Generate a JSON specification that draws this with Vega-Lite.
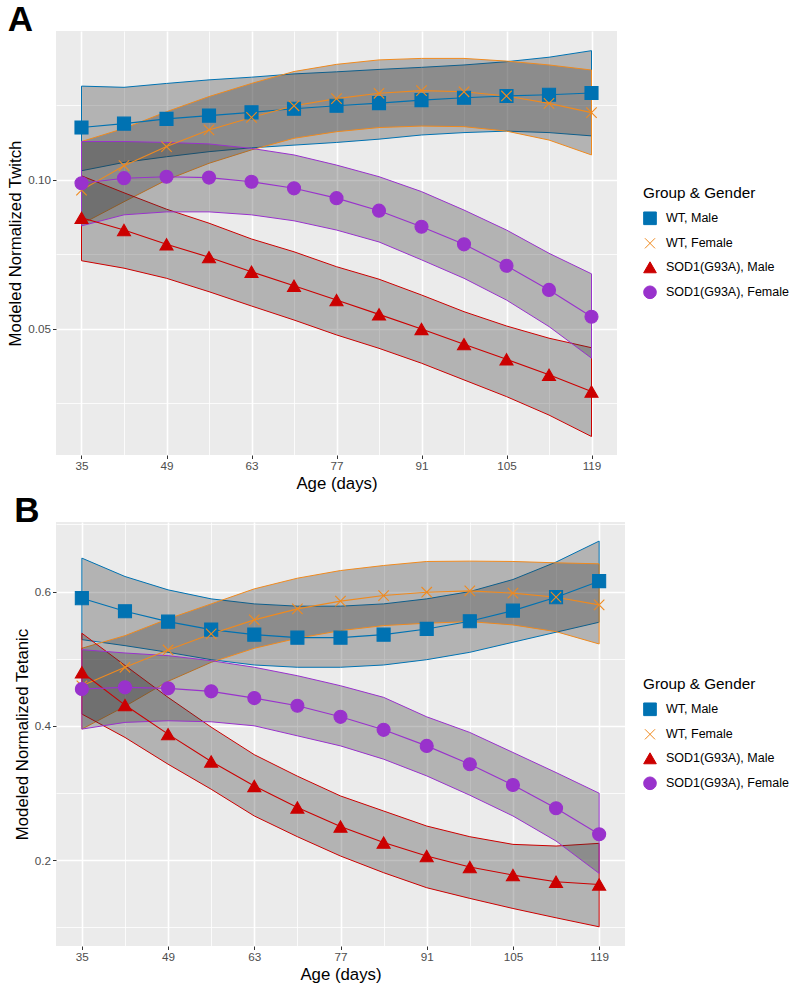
{
  "$schema": "https://vega.github.io/schema/vega-lite/v6.json",
  "padding": {"left": 7, "top": 3, "right": 0, "bottom": 0},
  "background": "white",
  "config": {
    "font": "Liberation Sans",
    "view": {"fill": "#EBEBEB", "stroke": null},
    "axis": {
      "labelFont": "Liberation Sans", "labelFontSize": 11.7, "labelColor": "#4D4D4D",
      "titleFont": "Liberation Sans", "titleFontSize": 16.8, "titleFontWeight": "normal", "titleColor": "#000000",
      "tickSize": 3.5, "tickColor": "#333333", "tickWidth": 1, "domain": false,
      "labelPadding": 2, "titlePadding": 3, "gridColor": "#FFFFFF"
    },
    "legend": {
      "titleFont": "Liberation Sans", "titleFontSize": 15.3, "titleFontWeight": "normal", "titleColor": "#000000",
      "labelFont": "Liberation Sans", "labelFontSize": 12.5, "labelColor": "#000000",
      "symbolSize": 160, "symbolStrokeWidth": 1, "rowPadding": 8, "labelOffset": 9, "titlePadding": 10
    },
    "title": {"font": "Liberation Sans", "fontSize": 35, "fontWeight": "bold", "color": "#000000", "anchor": "start", "baseline": "alphabetic", "offset": -7}
  },
  "datasets": {
    "twitch": [
      {"group": "WT, Male", "age": 35, "fit": 0.1176, "lo": 0.1031, "hi": 0.1315},
      {"group": "WT, Male", "age": 42, "fit": 0.1189, "lo": 0.1059, "hi": 0.1311},
      {"group": "WT, Male", "age": 49, "fit": 0.1205, "lo": 0.1078, "hi": 0.1324},
      {"group": "WT, Male", "age": 56, "fit": 0.1216, "lo": 0.1095, "hi": 0.1336},
      {"group": "WT, Male", "age": 63, "fit": 0.1227, "lo": 0.1108, "hi": 0.1345},
      {"group": "WT, Male", "age": 70, "fit": 0.1239, "lo": 0.1117, "hi": 0.1356},
      {"group": "WT, Male", "age": 77, "fit": 0.1249, "lo": 0.1126, "hi": 0.1363},
      {"group": "WT, Male", "age": 84, "fit": 0.1258, "lo": 0.1137, "hi": 0.1371},
      {"group": "WT, Male", "age": 91, "fit": 0.1268, "lo": 0.1151, "hi": 0.1378},
      {"group": "WT, Male", "age": 98, "fit": 0.1276, "lo": 0.1159, "hi": 0.1386},
      {"group": "WT, Male", "age": 105, "fit": 0.1282, "lo": 0.1164, "hi": 0.1397},
      {"group": "WT, Male", "age": 112, "fit": 0.1286, "lo": 0.1159, "hi": 0.1412},
      {"group": "WT, Male", "age": 119, "fit": 0.1292, "lo": 0.1148, "hi": 0.1434},
      {"group": "WT, Female", "age": 35, "fit": 0.0966, "lo": 0.0852, "hi": 0.1129},
      {"group": "WT, Female", "age": 42, "fit": 0.1048, "lo": 0.0927, "hi": 0.1173},
      {"group": "WT, Female", "age": 49, "fit": 0.1112, "lo": 0.1000, "hi": 0.1229},
      {"group": "WT, Female", "age": 56, "fit": 0.1168, "lo": 0.1056, "hi": 0.1280},
      {"group": "WT, Female", "age": 63, "fit": 0.1210, "lo": 0.1101, "hi": 0.1324},
      {"group": "WT, Female", "age": 70, "fit": 0.1249, "lo": 0.1140, "hi": 0.1364},
      {"group": "WT, Female", "age": 77, "fit": 0.1273, "lo": 0.1162, "hi": 0.1388},
      {"group": "WT, Female", "age": 84, "fit": 0.1291, "lo": 0.1176, "hi": 0.1403},
      {"group": "WT, Female", "age": 91, "fit": 0.1300, "lo": 0.1181, "hi": 0.1408},
      {"group": "WT, Female", "age": 98, "fit": 0.1296, "lo": 0.1179, "hi": 0.1408},
      {"group": "WT, Female", "age": 105, "fit": 0.1282, "lo": 0.1164, "hi": 0.1399},
      {"group": "WT, Female", "age": 112, "fit": 0.1257, "lo": 0.1134, "hi": 0.1386},
      {"group": "WT, Female", "age": 119, "fit": 0.1226, "lo": 0.1084, "hi": 0.1369},
      {"group": "SOD1(G93A), Male", "age": 35, "fit": 0.0873, "lo": 0.0729, "hi": 0.1014},
      {"group": "SOD1(G93A), Male", "age": 42, "fit": 0.0832, "lo": 0.0704, "hi": 0.0957},
      {"group": "SOD1(G93A), Male", "age": 49, "fit": 0.0784, "lo": 0.0670, "hi": 0.0902},
      {"group": "SOD1(G93A), Male", "age": 56, "fit": 0.0741, "lo": 0.0625, "hi": 0.0855},
      {"group": "SOD1(G93A), Male", "age": 63, "fit": 0.0692, "lo": 0.0577, "hi": 0.0802},
      {"group": "SOD1(G93A), Male", "age": 70, "fit": 0.0645, "lo": 0.0530, "hi": 0.0759},
      {"group": "SOD1(G93A), Male", "age": 77, "fit": 0.0597, "lo": 0.0480, "hi": 0.0709},
      {"group": "SOD1(G93A), Male", "age": 84, "fit": 0.0549, "lo": 0.0435, "hi": 0.0667},
      {"group": "SOD1(G93A), Male", "age": 91, "fit": 0.0500, "lo": 0.0385, "hi": 0.0614},
      {"group": "SOD1(G93A), Male", "age": 98, "fit": 0.0449, "lo": 0.0329, "hi": 0.0558},
      {"group": "SOD1(G93A), Male", "age": 105, "fit": 0.0398, "lo": 0.0273, "hi": 0.0510},
      {"group": "SOD1(G93A), Male", "age": 112, "fit": 0.0346, "lo": 0.0211, "hi": 0.0469},
      {"group": "SOD1(G93A), Male", "age": 119, "fit": 0.0290, "lo": 0.0139, "hi": 0.0437},
      {"group": "SOD1(G93A), Female", "age": 35, "fit": 0.0989, "lo": 0.0846, "hi": 0.1129},
      {"group": "SOD1(G93A), Female", "age": 42, "fit": 0.1006, "lo": 0.0883, "hi": 0.1129},
      {"group": "SOD1(G93A), Female", "age": 49, "fit": 0.1011, "lo": 0.0893, "hi": 0.1126},
      {"group": "SOD1(G93A), Female", "age": 56, "fit": 0.1008, "lo": 0.0893, "hi": 0.1121},
      {"group": "SOD1(G93A), Female", "age": 63, "fit": 0.0994, "lo": 0.0883, "hi": 0.1106},
      {"group": "SOD1(G93A), Female", "age": 70, "fit": 0.0972, "lo": 0.0863, "hi": 0.1084},
      {"group": "SOD1(G93A), Female", "age": 77, "fit": 0.0939, "lo": 0.0832, "hi": 0.1050},
      {"group": "SOD1(G93A), Female", "age": 84, "fit": 0.0897, "lo": 0.0792, "hi": 0.1011},
      {"group": "SOD1(G93A), Female", "age": 91, "fit": 0.0843, "lo": 0.0732, "hi": 0.0961},
      {"group": "SOD1(G93A), Female", "age": 98, "fit": 0.0784, "lo": 0.0670, "hi": 0.0899},
      {"group": "SOD1(G93A), Female", "age": 105, "fit": 0.0712, "lo": 0.0597, "hi": 0.0832},
      {"group": "SOD1(G93A), Female", "age": 112, "fit": 0.0631, "lo": 0.0508, "hi": 0.0754},
      {"group": "SOD1(G93A), Female", "age": 119, "fit": 0.0541, "lo": 0.0402, "hi": 0.0685}
    ],
    "tetanic": [
      {"group": "WT, Male", "age": 35, "fit": 0.5901, "lo": 0.5284, "hi": 0.6498},
      {"group": "WT, Male", "age": 42, "fit": 0.5707, "lo": 0.5194, "hi": 0.6224},
      {"group": "WT, Male", "age": 49, "fit": 0.5552, "lo": 0.5095, "hi": 0.6025},
      {"group": "WT, Male", "age": 56, "fit": 0.5433, "lo": 0.4985, "hi": 0.5891},
      {"group": "WT, Male", "age": 63, "fit": 0.5358, "lo": 0.4906, "hi": 0.5816},
      {"group": "WT, Male", "age": 70, "fit": 0.5313, "lo": 0.4872, "hi": 0.5782},
      {"group": "WT, Male", "age": 77, "fit": 0.5313, "lo": 0.4872, "hi": 0.5782},
      {"group": "WT, Male", "age": 84, "fit": 0.5358, "lo": 0.4906, "hi": 0.5816},
      {"group": "WT, Male", "age": 91, "fit": 0.5443, "lo": 0.4985, "hi": 0.5891},
      {"group": "WT, Male", "age": 98, "fit": 0.5558, "lo": 0.5095, "hi": 0.6000},
      {"group": "WT, Male", "age": 105, "fit": 0.5716, "lo": 0.5245, "hi": 0.6179},
      {"group": "WT, Male", "age": 112, "fit": 0.5916, "lo": 0.5394, "hi": 0.6439},
      {"group": "WT, Male", "age": 119, "fit": 0.6155, "lo": 0.5543, "hi": 0.6752},
      {"group": "WT, Female", "age": 35, "fit": 0.4597, "lo": 0.3951, "hi": 0.5155},
      {"group": "WT, Female", "age": 42, "fit": 0.4872, "lo": 0.4290, "hi": 0.5343},
      {"group": "WT, Female", "age": 49, "fit": 0.5130, "lo": 0.4663, "hi": 0.5593},
      {"group": "WT, Female", "age": 56, "fit": 0.5369, "lo": 0.4946, "hi": 0.5816},
      {"group": "WT, Female", "age": 63, "fit": 0.5578, "lo": 0.5155, "hi": 0.6040},
      {"group": "WT, Female", "age": 70, "fit": 0.5742, "lo": 0.5304, "hi": 0.6199},
      {"group": "WT, Female", "age": 77, "fit": 0.5857, "lo": 0.5418, "hi": 0.6313},
      {"group": "WT, Female", "age": 84, "fit": 0.5940, "lo": 0.5493, "hi": 0.6388},
      {"group": "WT, Female", "age": 91, "fit": 0.5990, "lo": 0.5528, "hi": 0.6448},
      {"group": "WT, Female", "age": 98, "fit": 0.6010, "lo": 0.5552, "hi": 0.6453},
      {"group": "WT, Female", "age": 105, "fit": 0.5976, "lo": 0.5503, "hi": 0.6448},
      {"group": "WT, Female", "age": 112, "fit": 0.5916, "lo": 0.5403, "hi": 0.6428},
      {"group": "WT, Female", "age": 119, "fit": 0.5801, "lo": 0.5219, "hi": 0.6413},
      {"group": "SOD1(G93A), Male", "age": 35, "fit": 0.4797, "lo": 0.4175, "hi": 0.5379},
      {"group": "SOD1(G93A), Male", "age": 42, "fit": 0.4309, "lo": 0.3827, "hi": 0.4900},
      {"group": "SOD1(G93A), Male", "age": 49, "fit": 0.3876, "lo": 0.3428, "hi": 0.4424},
      {"group": "SOD1(G93A), Male", "age": 56, "fit": 0.3469, "lo": 0.3055, "hi": 0.3980},
      {"group": "SOD1(G93A), Male", "age": 63, "fit": 0.3104, "lo": 0.2657, "hi": 0.3570},
      {"group": "SOD1(G93A), Male", "age": 70, "fit": 0.2784, "lo": 0.2348, "hi": 0.3250},
      {"group": "SOD1(G93A), Male", "age": 77, "fit": 0.2500, "lo": 0.2060, "hi": 0.2955},
      {"group": "SOD1(G93A), Male", "age": 84, "fit": 0.2261, "lo": 0.1812, "hi": 0.2731},
      {"group": "SOD1(G93A), Male", "age": 91, "fit": 0.2060, "lo": 0.1588, "hi": 0.2507},
      {"group": "SOD1(G93A), Male", "age": 98, "fit": 0.1896, "lo": 0.1429, "hi": 0.2348},
      {"group": "SOD1(G93A), Male", "age": 105, "fit": 0.1776, "lo": 0.1279, "hi": 0.2234},
      {"group": "SOD1(G93A), Male", "age": 112, "fit": 0.1677, "lo": 0.1140, "hi": 0.2209},
      {"group": "SOD1(G93A), Male", "age": 119, "fit": 0.1637, "lo": 0.1006, "hi": 0.2249},
      {"group": "SOD1(G93A), Female", "age": 35, "fit": 0.4548, "lo": 0.3951, "hi": 0.5134},
      {"group": "SOD1(G93A), Female", "age": 42, "fit": 0.4573, "lo": 0.4051, "hi": 0.5085},
      {"group": "SOD1(G93A), Female", "age": 49, "fit": 0.4558, "lo": 0.4075, "hi": 0.5045},
      {"group": "SOD1(G93A), Female", "age": 56, "fit": 0.4513, "lo": 0.4060, "hi": 0.4970},
      {"group": "SOD1(G93A), Female", "age": 63, "fit": 0.4413, "lo": 0.4000, "hi": 0.4872},
      {"group": "SOD1(G93A), Female", "age": 70, "fit": 0.4299, "lo": 0.3851, "hi": 0.4746},
      {"group": "SOD1(G93A), Female", "age": 77, "fit": 0.4134, "lo": 0.3701, "hi": 0.4597},
      {"group": "SOD1(G93A), Female", "age": 84, "fit": 0.3940, "lo": 0.3503, "hi": 0.4424},
      {"group": "SOD1(G93A), Female", "age": 91, "fit": 0.3701, "lo": 0.3254, "hi": 0.4134},
      {"group": "SOD1(G93A), Female", "age": 98, "fit": 0.3428, "lo": 0.2966, "hi": 0.3901},
      {"group": "SOD1(G93A), Female", "age": 105, "fit": 0.3119, "lo": 0.2657, "hi": 0.3603},
      {"group": "SOD1(G93A), Female", "age": 112, "fit": 0.2772, "lo": 0.2284, "hi": 0.3304},
      {"group": "SOD1(G93A), Female", "age": 119, "fit": 0.2384, "lo": 0.1802, "hi": 0.2996}
    ]
  },
  "spacing": 2,
  "resolve": {
    "scale": {"color": "independent", "shape": "independent", "stroke": "independent"},
    "legend": {"color": "independent", "shape": "independent", "stroke": "independent"}
  },
  "vconcat": [
    {
      "title": {"text": "A"},
      "width": 561,
      "height": 424,
      "data": {"name": "twitch"},
      "encoding": {
        "x": {
          "field": "age", "type": "quantitative", "title": "Age (days)",
          "scale": {"domain": [30.8, 123.2], "nice": false, "zero": false},
          "axis": {
            "values": [35, 42, 49, 56, 63, 70, 77, 84, 91, 98, 105, 112, 119],
            "labelExpr": "datum.value % 14 == 7 ? datum.label : ''",
            "gridWidth": {"condition": {"test": "datum.value % 14 == 7", "value": 1.6}, "value": 0.8},
            "tickOpacity": {"condition": {"test": "datum.value % 14 == 7", "value": 1}, "value": 0}
          }
        }
      },
      "layer": [
        {
          "mark": {"type": "area", "fill": "#333333", "fillOpacity": 0.3, "strokeWidth": 1, "strokeOpacity": 1},
          "encoding": {
            "y": {
              "field": "lo", "type": "quantitative", "title": "Modeled Normalized Twitch",
              "scale": {"domain": [0.0077, 0.150], "nice": false, "zero": false},
              "axis": {
                "values": [0.025, 0.05, 0.075, 0.1, 0.125],
                "labelExpr": "abs(datum.value*20 - round(datum.value*20)) < 0.001 ? format(datum.value, '.2f') : ''",
                "gridWidth": {"condition": {"test": "abs(datum.value*20 - round(datum.value*20)) < 0.001", "value": 1.6}, "value": 0.8},
                "tickOpacity": {"condition": {"test": "abs(datum.value*20 - round(datum.value*20)) < 0.001", "value": 1}, "value": 0}
              }
            },
            "y2": {"field": "hi"},
            "stroke": {
              "field": "group", "type": "nominal", "title": "Group & Gender",
              "scale": {"domain": ["WT, Male", "WT, Female", "SOD1(G93A), Male", "SOD1(G93A), Female"], "range": ["#0072B2", "#F08A1E", "#CC0000", "#9932CC"]},
              "legend": {"orient": "none", "legendX": 587, "legendY": 155}
            }
          }
        },
        {
          "mark": {"type": "line", "strokeWidth": 1.1},
          "encoding": {
            "y": {"field": "fit", "type": "quantitative"},
            "color": {
              "field": "group", "type": "nominal", "title": "Group & Gender",
              "scale": {"domain": ["WT, Male", "WT, Female", "SOD1(G93A), Male", "SOD1(G93A), Female"], "range": ["#0072B2", "#F08A1E", "#CC0000", "#9932CC"]},
              "legend": {"orient": "none", "legendX": 587, "legendY": 155}
            }
          }
        },
        {
          "mark": {"type": "point", "filled": true, "size": 170, "strokeWidth": 1.1, "opacity": 1},
          "encoding": {
            "y": {"field": "fit", "type": "quantitative"},
            "color": {"field": "group", "type": "nominal", "title": "Group & Gender"},
            "stroke": {"field": "group", "type": "nominal", "title": "Group & Gender"},
            "shape": {
              "field": "group", "type": "nominal", "title": "Group & Gender",
              "scale": {"domain": ["WT, Male", "WT, Female", "SOD1(G93A), Male", "SOD1(G93A), Female"], "range": ["square", "M-0.8,-0.8L0.8,0.8M-0.8,0.8L0.8,-0.8", "triangle-up", "circle"]},
              "legend": {"orient": "none", "legendX": 587, "legendY": 155}
            }
          }
        }
      ]
    },
    {
      "title": {"text": "B"},
      "width": 569,
      "height": 424,
      "data": {"name": "tetanic"},
      "encoding": {
        "x": {
          "field": "age", "type": "quantitative", "title": "Age (days)",
          "scale": {"domain": [30.8, 123.2], "nice": false, "zero": false},
          "axis": {
            "values": [35, 42, 49, 56, 63, 70, 77, 84, 91, 98, 105, 112, 119],
            "labelExpr": "datum.value % 14 == 7 ? datum.label : ''",
            "gridWidth": {"condition": {"test": "datum.value % 14 == 7", "value": 1.6}, "value": 0.8},
            "tickOpacity": {"condition": {"test": "datum.value % 14 == 7", "value": 1}, "value": 0}
          }
        }
      },
      "layer": [
        {
          "mark": {"type": "area", "fill": "#333333", "fillOpacity": 0.3, "strokeWidth": 1, "strokeOpacity": 1},
          "encoding": {
            "y": {
              "field": "lo", "type": "quantitative", "title": "Modeled Normalized Tetanic",
              "scale": {"domain": [0.072, 0.7036], "nice": false, "zero": false},
              "axis": {
                "values": [0.1, 0.2, 0.3, 0.4, 0.5, 0.6, 0.7],
                "labelExpr": "abs(datum.value*5 - round(datum.value*5)) < 0.001 ? format(datum.value, '.1f') : ''",
                "gridWidth": {"condition": {"test": "abs(datum.value*5 - round(datum.value*5)) < 0.001", "value": 1.6}, "value": 0.8},
                "tickOpacity": {"condition": {"test": "abs(datum.value*5 - round(datum.value*5)) < 0.001", "value": 1}, "value": 0}
              }
            },
            "y2": {"field": "hi"},
            "stroke": {
              "field": "group", "type": "nominal", "title": "Group & Gender",
              "scale": {"domain": ["WT, Male", "WT, Female", "SOD1(G93A), Male", "SOD1(G93A), Female"], "range": ["#0072B2", "#F08A1E", "#CC0000", "#9932CC"]},
              "legend": {"orient": "none", "legendX": 587, "legendY": 155}
            }
          }
        },
        {
          "mark": {"type": "line", "strokeWidth": 1.1},
          "encoding": {
            "y": {"field": "fit", "type": "quantitative"},
            "color": {
              "field": "group", "type": "nominal", "title": "Group & Gender",
              "scale": {"domain": ["WT, Male", "WT, Female", "SOD1(G93A), Male", "SOD1(G93A), Female"], "range": ["#0072B2", "#F08A1E", "#CC0000", "#9932CC"]},
              "legend": {"orient": "none", "legendX": 587, "legendY": 155}
            }
          }
        },
        {
          "mark": {"type": "point", "filled": true, "size": 170, "strokeWidth": 1.1, "opacity": 1},
          "encoding": {
            "y": {"field": "fit", "type": "quantitative"},
            "color": {"field": "group", "type": "nominal", "title": "Group & Gender"},
            "stroke": {"field": "group", "type": "nominal", "title": "Group & Gender"},
            "shape": {
              "field": "group", "type": "nominal", "title": "Group & Gender",
              "scale": {"domain": ["WT, Male", "WT, Female", "SOD1(G93A), Male", "SOD1(G93A), Female"], "range": ["square", "M-0.8,-0.8L0.8,0.8M-0.8,0.8L0.8,-0.8", "triangle-up", "circle"]},
              "legend": {"orient": "none", "legendX": 587, "legendY": 155}
            }
          }
        }
      ]
    }
  ]
}
